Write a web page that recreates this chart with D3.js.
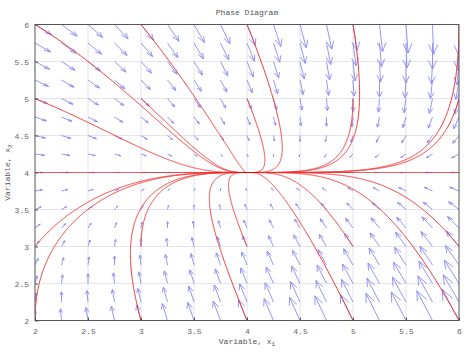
<!DOCTYPE html>
<html><head><meta charset="utf-8">
<script src="https://cdn.jsdelivr.net/npm/d3@7"></script>
<style>html,body{margin:0;padding:0;background:#fff;}svg{display:block;}</style>
</head><body>
<svg id="c" width="474" height="355"></svg>
<script>
// ---- data ----
const xTicks = [2, 2.5, 3, 3.5, 4, 4.5, 5, 5.5, 6];
const yTicks = [2, 2.5, 3, 3.5, 4, 4.5, 5, 5.5, 6];
const quiverX = [2, 2.25, 2.5, 2.75, 3, 3.25, 3.5, 3.75, 4, 4.25, 4.5, 4.75, 5, 5.25, 5.5, 5.75, 6];
const quiverY = [2, 2.25, 2.5, 2.75, 3, 3.25, 3.5, 3.75, 4, 4.25, 4.5, 4.75, 5, 5.25, 5.5, 5.75, 6];
const startX1 = [2, 2, 2, 2, 2, 3, 3, 3, 3, 3, 4, 4, 4, 4, 5, 5, 5, 5, 5, 6, 6, 6, 6, 6];
const startX2 = [2, 3, 4, 5, 6, 2, 3, 4, 5, 6, 2, 3, 5, 6, 2, 3, 4, 5, 6, 2, 3, 4, 5, 6];
const rateA = 1.0;      // x1' = a (x2 - x1)
const rateB = 0.886;    // x2' = b x1 (4 - x2)
const arrowScale = 0.0395;
const title = "Phase Diagram";

// ---- layout ----
const svg = d3.select("#c");
const L = 35, R = 459, T = 24.5, B = 320.5;
const x = d3.scaleLinear().domain([2, 6]).range([L, R]);
const y = d3.scaleLinear().domain([2, 6]).range([B, T]);
const font = "'Liberation Mono','DejaVu Sans Mono',monospace";

function field(p) {
  return [rateA * (p[1] - p[0]), rateB * p[0] * (4 - p[1])];
}

// grid
const g = svg.append("g");
g.selectAll(".gx").data(xTicks.slice(1, -1)).enter().append("line")
  .attr("x1", d => x(d)).attr("x2", d => x(d)).attr("y1", T).attr("y2", B)
  .attr("stroke", "#e4e4ea").attr("stroke-width", 1);
g.selectAll(".gy").data(yTicks.slice(1, -1)).enter().append("line")
  .attr("y1", d => y(d)).attr("y2", d => y(d)).attr("x1", L).attr("x2", R)
  .attr("stroke", "#e4e4ea").attr("stroke-width", 1);

svg.append("clipPath").attr("id", "clip").append("rect")
  .attr("x", L).attr("y", T).attr("width", R - L).attr("height", B - T);
const plot = svg.append("g").attr("clip-path", "url(#clip)");

// quiver
const arrows = [];
quiverX.forEach(qx => quiverY.forEach(qy => {
  const f = field([qx, qy]);
  const u = arrowScale * f[0], v = arrowScale * f[1];
  const al = 0.33, be = 0.33;
  const tx = qx + u, ty = qy + v;
  arrows.push({ qx, qy, tx, ty,
    h1x: tx - al * (u + be * v), h1y: ty - al * (v - be * u),
    h2x: tx - al * (u - be * v), h2y: ty - al * (v + be * u) });
}));
const aq = plot.append("g").attr("stroke", "#8a8af4").attr("stroke-width", 0.9).attr("fill", "none");
aq.selectAll("path").data(arrows).enter().append("path")
  .attr("d", d => `M${x(d.qx)},${y(d.qy)}L${x(d.tx)},${y(d.ty)}M${x(d.h1x)},${y(d.h1y)}L${x(d.tx)},${y(d.ty)}L${x(d.h2x)},${y(d.h2y)}`);

// trajectories
function integrate(p0) {
  const pts = [p0.slice()];
  let p = p0.slice();
  const dt = 0.004;
  for (let i = 0; i < 40000; i++) {
    const k1 = field(p);
    const k2 = field([p[0] + dt / 2 * k1[0], p[1] + dt / 2 * k1[1]]);
    const k3 = field([p[0] + dt / 2 * k2[0], p[1] + dt / 2 * k2[1]]);
    const k4 = field([p[0] + dt * k3[0], p[1] + dt * k3[1]]);
    p = [p[0] + dt / 6 * (k1[0] + 2 * k2[0] + 2 * k3[0] + k4[0]),
         p[1] + dt / 6 * (k1[1] + 2 * k2[1] + 2 * k3[1] + k4[1])];
    pts.push(p);
    if (p[0] < 1.99 || p[0] > 6.01 || p[1] < 1.99 || p[1] > 6.01) break;
    if (Math.hypot(p[0] - 4, p[1] - 4) < 0.002) break;
  }
  return pts;
}
const line = d3.line().x(d => x(d[0])).y(d => y(d[1]));
const trajs = startX1.map((s, i) => integrate([s, startX2[i]]));
plot.append("g").selectAll("path").data(trajs).enter().append("path")
  .attr("d", line).attr("fill", "none").attr("stroke", "#f03434").attr("stroke-width", 1);

// axes box
svg.append("rect").attr("x", L).attr("y", T).attr("width", R - L).attr("height", B - T)
  .attr("fill", "none").attr("stroke", "#555").attr("stroke-width", 1);

const xAxis = svg.append("g").attr("transform", `translate(0,${B})`)
  .call(d3.axisBottom(x).tickValues(xTicks).tickSize(-3).tickPadding(8).tickFormat(d3.format("~g")));
const yAxis = svg.append("g").attr("transform", `translate(${L},0)`)
  .call(d3.axisLeft(y).tickValues(yTicks).tickSize(-3).tickPadding(6).tickFormat(d3.format("~g")));
[xAxis, yAxis].forEach(a => {
  a.select(".domain").remove();
  a.selectAll("line").attr("stroke", "#555");
  a.selectAll("text").attr("fill", "#666").style("font-family", font).style("font-size", "8px");
});

// title and labels
svg.append("text").attr("x", (L + R) / 2).attr("y", 15).attr("text-anchor", "middle")
  .style("font-family", font).style("font-size", "8px").attr("fill", "#555").text(title);
const xl = svg.append("text").attr("x", (L + R) / 2).attr("y", 344).attr("text-anchor", "middle")
  .style("font-family", font).style("font-size", "8px").attr("fill", "#555");
xl.append("tspan").text("Variable, x");
xl.append("tspan").attr("dy", 2).style("font-size", "6px").text("1");
const yl = svg.append("text").attr("transform", `translate(10,${(T + B) / 2}) rotate(-90)`)
  .attr("text-anchor", "middle").style("font-family", font).style("font-size", "8px").attr("fill", "#555");
yl.append("tspan").text("Variable, x");
yl.append("tspan").attr("dy", 2).style("font-size", "6px").text("2");
</script>
</body></html>
